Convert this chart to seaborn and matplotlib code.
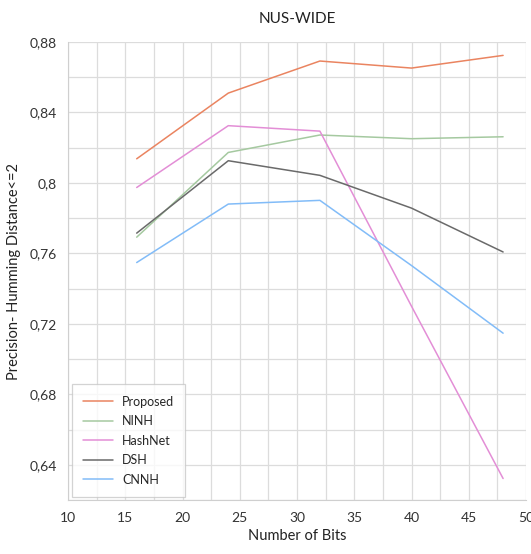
import pandas as pd
import numpy as np
import seaborn as sns
import matplotlib.pyplot as plt
from matplotlib.ticker import MultipleLocator, FuncFormatter

# dati
bits = [16, 24, 32, 40, 48]
proposed = [0.8137, 0.851, 0.8692, 0.8652, 0.8724]
ninh = [0.7692, 0.8173, 0.8272, 0.8251, 0.8262]
hashnet = [0.7974, 0.8325, 0.8294, 0.7300, 0.6322]
dsh = [0.7715, 0.8126, 0.8043, 0.7857, 0.7608]
cnnh = [0.7548, 0.7880, 0.7901, 0.7531, 0.7147]
methods = ['Proposed', 'NINH', 'HashNet', 'DSH', 'CNNH']
colors = ['#EA8460', '#A5C9A0', '#E38ED6', '#6A6A6A', '#82BCF8']

serie = [proposed, ninh, hashnet, dsh, cnnh]
df = pd.DataFrame({
    'bits': bits * len(methods),
    'value': np.concatenate(serie),
    'method': np.repeat(methods, len(bits)),
})

sns.set_style('white')
plt.rcParams['font.family'] = ['Lato', 'DejaVu Sans']

fig = plt.figure(figsize=(5.31, 5.54), dpi=100)
ax = fig.add_axes([68 / 531, 1 - 500 / 554, 458 / 531, 458 / 554])

sns.lineplot(data=df, x='bits', y='value', hue='method', hue_order=methods,
             palette=dict(zip(methods, colors)), linewidth=1.1, ax=ax)

ax.set_xlim(10, 50)
ax.set_ylim(0.62, 0.88)
ax.xaxis.set_major_locator(MultipleLocator(5))
ax.xaxis.set_minor_locator(MultipleLocator(2.5))
ax.yaxis.set_major_locator(MultipleLocator(0.04))
ax.yaxis.set_minor_locator(MultipleLocator(0.02))
ax.yaxis.set_major_formatter(FuncFormatter(lambda v, p: f"{round(v, 2):g}".replace('.', ',')))
ax.grid(True, which='both', color='#DCDCDC', linewidth=0.9)
ax.set_axisbelow(True)
for s in ['top', 'right']:
    ax.spines[s].set_visible(False)
for s in ['left', 'bottom']:
    ax.spines[s].set_color('#CFCFCF')
ax.tick_params(axis='x', which='major', length=5, color='#CFCFCF', labelsize=10, colors='#333333')
ax.tick_params(axis='y', which='both', length=0, labelsize=10, colors='#333333', pad=8)
ax.tick_params(axis='x', which='minor', length=0)

ax.set_title('NUS-WIDE', fontsize=11, color='#222222', pad=14)
ax.set_xlabel('Number of Bits', fontsize=10.5, color='#222222', labelpad=4)
ax.set_ylabel('Precision- Humming Distance<=2', fontsize=10.5, color='#222222', labelpad=6)

handles, labels = ax.get_legend_handles_labels()
ax.get_legend().remove()
leg = ax.legend(handles, labels, loc='lower left', bbox_to_anchor=(0.009, 0.007),
                borderaxespad=0, prop={'family': 'Lato', 'size': 9},
                frameon=True, fancybox=False, handlelength=2.4,
                handletextpad=0.7, labelspacing=0.6, borderpad=0.9)
leg.get_frame().set_edgecolor('#C8C8C8')
leg.get_frame().set_linewidth(0.9)

plt.savefig('out.png', dpi=100)
